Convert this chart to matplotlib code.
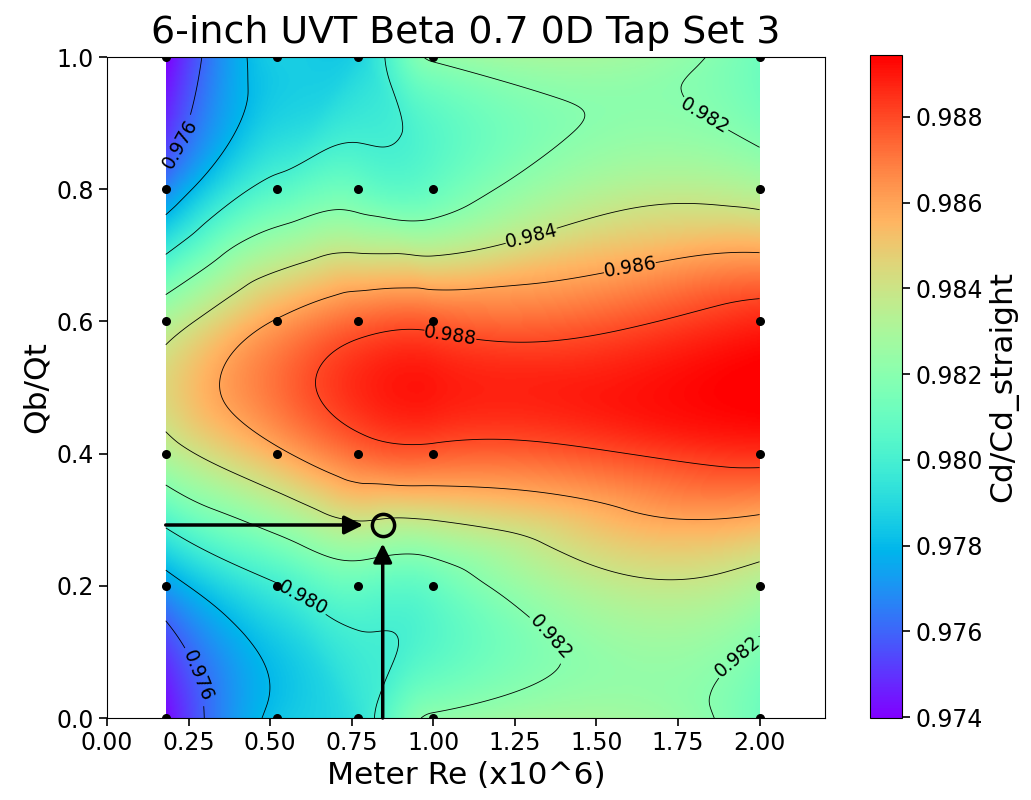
import numpy as np
import matplotlib
matplotlib.use("Agg")
import matplotlib.pyplot as plt
import matplotlib.tri as mtri

meter_re = [0.18, 0.52, 0.77, 1.0, 2.0]
qb_qt = [0.0, 0.2, 0.4, 0.6, 0.8, 1.0]
# rows follow qb_qt, columns follow meter_re
cd_ratio = [
    [0.9742, 0.9783, 0.9794, 0.9822, 0.9812],
    [0.9773, 0.9799, 0.9810, 0.9810, 0.9832],
    [0.9833, 0.9857, 0.9873, 0.9876, 0.9885],
    [0.9832, 0.9861, 0.9874, 0.9876, 0.9887],
    [0.9768, 0.9805, 0.9811, 0.9810, 0.9832],
    [0.9740, 0.9786, 0.9788, 0.9822, 0.9812],
]
contour_levels = [0.976, 0.978, 0.980, 0.982, 0.984, 0.986, 0.988]
cbar_ticks = [0.974, 0.976, 0.978, 0.980, 0.982, 0.984, 0.986, 0.988]
cbar_min, cbar_max = 0.97398, 0.98945

# operating point marked with the arrows
target_re = 0.845
target_qb = 0.292

# where the contour labels sit
label_spots = [(0.22, 0.87), (1.05, 0.57), (1.3, 0.73), (1.6, 0.69),
               (1.85, 0.93), (0.6, 0.18), (0.3, 0.07), (1.4, 0.15),
               (1.87, 0.14)]

X_pts, Y_pts = np.meshgrid(meter_re, qb_qt)
Z_pts = np.array(cd_ratio)

tri = mtri.Triangulation(X_pts.ravel(), Y_pts.ravel())
interp = mtri.CubicTriInterpolator(tri, Z_pts.ravel(), kind="min_E")

xs = np.linspace(meter_re[0], meter_re[-1], 500)
ys = np.linspace(qb_qt[0], qb_qt[-1], 400)
XX, YY = np.meshgrid(xs, ys)
ZZ = interp(XX, YY)

fig = plt.figure(figsize=(10.31, 8.0), dpi=100)
ax = fig.add_axes([0.1038, 0.1025, 0.6962, 0.8262])
cax = fig.add_axes([0.844, 0.1025, 0.031, 0.8290])

im = ax.imshow(ZZ, extent=[meter_re[0], meter_re[-1], qb_qt[0], qb_qt[-1]],
               origin="lower", aspect="auto", cmap="rainbow",
               vmin=cbar_min, vmax=cbar_max, interpolation="bilinear")
cs = ax.contour(XX, YY, ZZ, levels=contour_levels, colors="k", linewidths=0.6)
ax.clabel(cs, fmt="%.3f", fontsize=13.5, inline=True, manual=label_spots)
ax.scatter(X_pts.ravel(), Y_pts.ravel(), s=30, c="k", zorder=3)

# arrows pointing at the operating point
ax.annotate("", xy=(target_re - 0.06, target_qb), xytext=(meter_re[0], target_qb),
            arrowprops=dict(arrowstyle="-|>", color="k", lw=2.5,
                            mutation_scale=28, shrinkA=0, shrinkB=0))
ax.annotate("", xy=(target_re, target_qb - 0.028), xytext=(target_re, 0.0),
            arrowprops=dict(arrowstyle="-|>", color="k", lw=2.5,
                            mutation_scale=28, shrinkA=0, shrinkB=0))
ax.plot(target_re, target_qb, "o", mfc="none", mec="k", ms=16, mew=2.5, zorder=4)

ax.set_xlim(0, 2.2)
ax.set_ylim(0, 1.0)
ax.set_xticks(np.arange(0, 2.01, 0.25))
ax.set_xticklabels([f"{v:.2f}" for v in np.arange(0, 2.01, 0.25)])
ax.set_yticks(np.arange(0, 1.01, 0.2))
ax.set_yticklabels([f"{v:.1f}" for v in np.arange(0, 1.01, 0.2)])
ax.tick_params(labelsize=17, length=6, width=1.2)
ax.set_xlabel("Meter Re (x10^6)", fontsize=22.5)
ax.set_ylabel("Qb/Qt", fontsize=22.5)
ax.set_title("6-inch UVT Beta 0.7 0D Tap Set 3", fontsize=27.3, pad=10)

cb = fig.colorbar(im, cax=cax, ticks=cbar_ticks, format="%.3f")
cb.ax.tick_params(labelsize=17, length=6, width=1.2)
cb.set_label("Cd/Cd_straight", fontsize=22.5)

fig.savefig("out.png", dpi=100)
